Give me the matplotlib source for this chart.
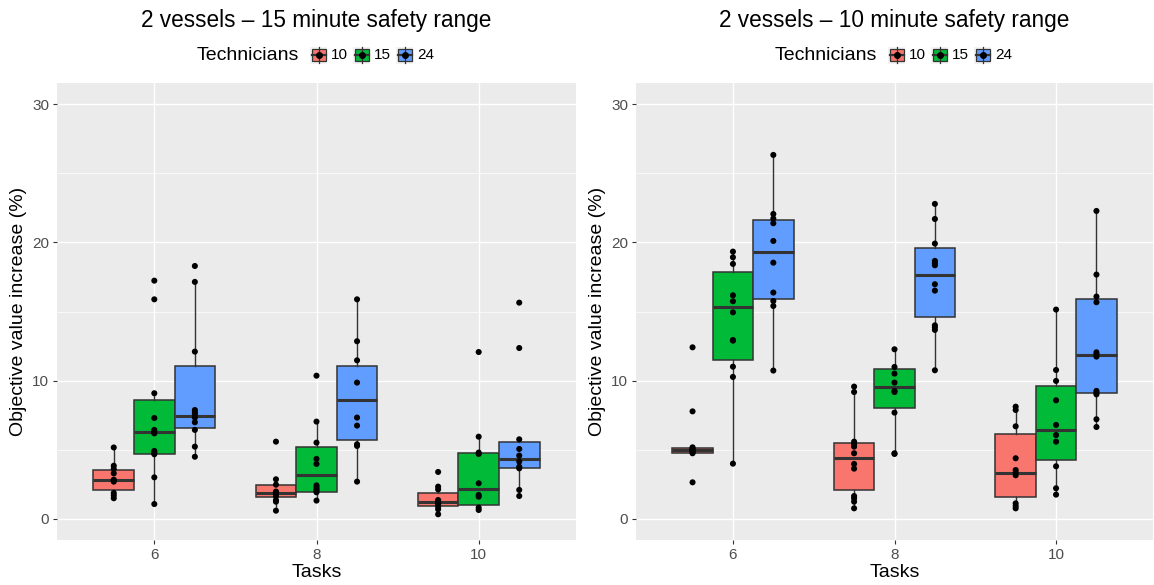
import numpy as np
import matplotlib
matplotlib.use("Agg")
import matplotlib.pyplot as plt
from matplotlib.patches import Rectangle
from matplotlib.lines import Line2D
from matplotlib.transforms import Affine2D

plt.rcParams["font.family"] = ["Liberation Sans", "DejaVu Sans"]

# ---- data -----------------------------------------------------------------
tasks = ["6", "8", "10"]
technicians = ["10", "15", "24"]
fill_colors = ["#F8766D", "#00BA38", "#619CFF"]
panel_titles = ["2 vessels \u2013 15 minute safety range",
                "2 vessels \u2013 10 minute safety range"]

# observed objective value increase (%), per technician count, per task count
obs_15min_tech10 = [[5.17, 3.85, 3.62, 3.30, 2.84, 2.80, 2.70, 1.88, 1.70, 1.50],
                    [5.59, 2.87, 2.48, 1.98, 1.90, 1.86, 1.66, 1.37, 1.25, 0.60],
                    [3.40, 2.34, 2.14, 1.37, 1.25, 1.20, 1.08, 0.89, 0.70, 0.34]]
obs_15min_tech15 = [[17.23, 15.88, 9.09, 7.30, 6.44, 6.31, 6.19, 4.92, 4.80, 4.68, 3.01, 1.08],
                    [10.36, 7.04, 5.52, 4.34, 3.98, 2.43, 2.29, 2.14, 2.05, 1.93, 1.33],
                    [12.07, 5.95, 4.80, 4.70, 2.58, 1.74, 1.61, 0.82, 0.65]]
obs_15min_tech24 = [[18.29, 17.14, 12.10, 7.88, 7.71, 7.57, 7.33, 6.99, 6.44, 5.23, 4.50],
                    [15.88, 12.85, 11.47, 9.86, 7.33, 6.75, 5.40, 5.28, 2.70],
                    [15.64, 12.36, 5.76, 5.06, 4.58, 4.15, 3.78, 3.66, 2.10, 1.66]]

obs_10min_tech10 = [[12.41, 7.78, 5.18, 5.09, 5.02, 4.96, 4.90, 4.80, 4.75, 2.65],
                    [9.57, 9.18, 5.59, 5.42, 5.23, 4.75, 3.98, 3.64, 1.66, 1.49, 1.25, 0.77],
                    [8.12, 7.88, 6.70, 4.39, 3.54, 3.35, 3.16, 1.13, 0.94, 0.77]]
obs_10min_tech15 = [[19.33, 18.92, 18.44, 16.17, 15.74, 14.94, 12.94, 12.89, 11.01, 10.27, 4.00],
                    [12.27, 10.99, 10.51, 9.86, 9.26, 9.18, 7.69, 4.75, 4.70],
                    [15.14, 10.77, 9.98, 8.58, 6.80, 6.07, 5.59, 3.81, 2.22, 1.76]]
obs_10min_tech24 = [[26.32, 22.05, 21.72, 21.38, 20.10, 18.53, 16.37, 15.76, 15.40, 10.73],
                    [22.78, 21.69, 19.91, 18.66, 18.49, 18.34, 16.97, 16.51, 14.00, 13.86, 13.67, 10.75],
                    [22.27, 17.67, 16.08, 15.67, 12.05, 11.91, 11.74, 9.26, 9.13, 9.01, 7.21, 6.65]]

# box summaries (lower hinge, median, upper hinge), rows = technicians, cols = tasks
q1_15min = [[2.10, 1.57, 0.94], [4.72, 1.98, 0.99], [6.60, 5.71, 3.66]]
med_15min = [[2.82, 1.90, 1.20], [6.31, 3.18, 2.17], [7.47, 8.60, 4.36]]
q3_15min = [[3.52, 2.48, 1.90], [8.63, 5.23, 4.80], [11.04, 11.06, 5.57]]

q1_10min = [[4.75, 2.10, 1.59], [11.50, 8.05, 4.27], [15.91, 14.61, 9.09]]
med_10min = [[4.96, 4.39, 3.35], [15.35, 9.54, 6.46], [19.31, 17.64, 11.88]]
q3_10min = [[5.16, 5.50, 6.12], [17.88, 10.85, 9.62], [21.62, 19.57, 15.93]]

panels = [
    dict(obs=[obs_15min_tech10, obs_15min_tech15, obs_15min_tech24],
         q1=q1_15min, med=med_15min, q3=q3_15min),
    dict(obs=[obs_10min_tech10, obs_10min_tech15, obs_10min_tech24],
         q1=q1_10min, med=med_10min, q3=q3_10min),
]

# ---- figure -----------------------------------------------------------------
W, H = 1154, 585
fig = plt.figure(figsize=(W / 100, H / 100), dpi=100)
fig.patch.set_facecolor("white")

# pixel coordinates measured from the top-left corner
pix = Affine2D().scale(1.0 / W, -1.0 / H).translate(0, 1) + fig.transFigure

# (left, top, width, height) of each panel, and x of its y-axis title, in pixels
panel_boxes = [(57, 83, 519, 457), (636, 83, 517, 457)]
ylabel_x = [19, 597]
dodge = 0.25
box_w = 0.25
edge = "#333333"

for p, (panel, (x0, y0, pw, ph)) in enumerate(zip(panels, panel_boxes)):
    ax = fig.add_axes([x0 / W, 1 - (y0 + ph) / H, pw / W, ph / H])
    ax.set_facecolor("#EBEBEB")
    for s in ax.spines.values():
        s.set_visible(False)

    ax.set_xlim(0.4, 3.6)
    ax.set_ylim(-1.52, 31.52)
    ax.set_xticks([1, 2, 3])
    ax.set_xticklabels(tasks)
    ax.set_yticks([0, 10, 20, 30])
    ax.set_yticks([5, 15, 25], minor=True)
    ax.grid(which="major", color="white", linewidth=1.0)
    ax.grid(which="minor", axis="y", color="white", linewidth=0.5)
    ax.tick_params(which="major", length=3, width=0.8, color=edge,
                   labelcolor="#4D4D4D", labelsize=11, pad=2.5)
    ax.tick_params(which="minor", length=0)
    ax.set_axisbelow(True)

    for t, tech in enumerate(technicians):
        offset = (t - 1) * dodge
        stats = []
        positions = []
        for k in range(len(tasks)):
            pts = np.array(panel["obs"][t][k])
            q1 = panel["q1"][t][k]
            q3 = panel["q3"][t][k]
            iqr = q3 - q1
            inside = pts[(pts >= q1 - 1.5 * iqr) & (pts <= q3 + 1.5 * iqr)]
            stats.append(dict(q1=q1, med=panel["med"][t][k], q3=q3,
                              whislo=min(inside.min(), q1),
                              whishi=max(inside.max(), q3), fliers=[]))
            positions.append(k + 1 + offset)
        ax.bxp(stats, positions=positions, widths=box_w, patch_artist=True,
               showfliers=False, showcaps=False,
               boxprops=dict(facecolor=fill_colors[t], edgecolor=edge, linewidth=1.1),
               medianprops=dict(color=edge, linewidth=2.2),
               whiskerprops=dict(color=edge, linewidth=1.0),
               manage_ticks=False, zorder=2)
        for k in range(len(tasks)):
            pts = panel["obs"][t][k]
            ax.scatter(np.full(len(pts), k + 1 + offset), pts, s=19,
                       color="black", edgecolors="none", zorder=3)

    ax.set_xlabel("Tasks", fontsize=14, labelpad=1.5)
    fig.text(ylabel_x[p] / W, 1 - (y0 + ph / 2) / H,
             "Objective value increase (%)", rotation=90,
             ha="center", va="center", fontsize=14, color="black")

    cx = x0 + pw / 2
    fig.text(cx / W, 1 - 21 / H, panel_titles[p], ha="center", va="center",
             fontsize=16.3, color="black")

    # legend drawn as a strip under the title
    ly = 55
    fig.text((cx - 119.5) / W, 1 - ly / H, "Technicians", ha="left",
             va="center", fontsize=14, color="black")
    for t, tech in enumerate(technicians):
        kx = cx + 2 + 43 * t
        fig.add_artist(Rectangle((kx - 8.5, ly - 8.5), 17, 17, transform=pix,
                                 facecolor="#F2F2F2", edgecolor="none"))
        fig.add_artist(Line2D([kx, kx], [ly - 8, ly + 8], transform=pix,
                              color=edge, linewidth=0.9))
        fig.add_artist(Rectangle((kx - 7, ly - 6), 14, 12, transform=pix,
                                 facecolor=fill_colors[t], edgecolor=edge,
                                 linewidth=0.9))
        fig.add_artist(Line2D([kx - 7, kx + 7], [ly, ly], transform=pix,
                              color=edge, linewidth=1.6))
        fig.add_artist(Line2D([kx], [ly], transform=pix, marker="o",
                              markersize=4, color="black", linestyle="none"))
        fig.text((kx + 12.5) / W, 1 - ly / H, tech, ha="left", va="center",
                 fontsize=11, color="black")

fig.savefig("out.png", dpi=100)
